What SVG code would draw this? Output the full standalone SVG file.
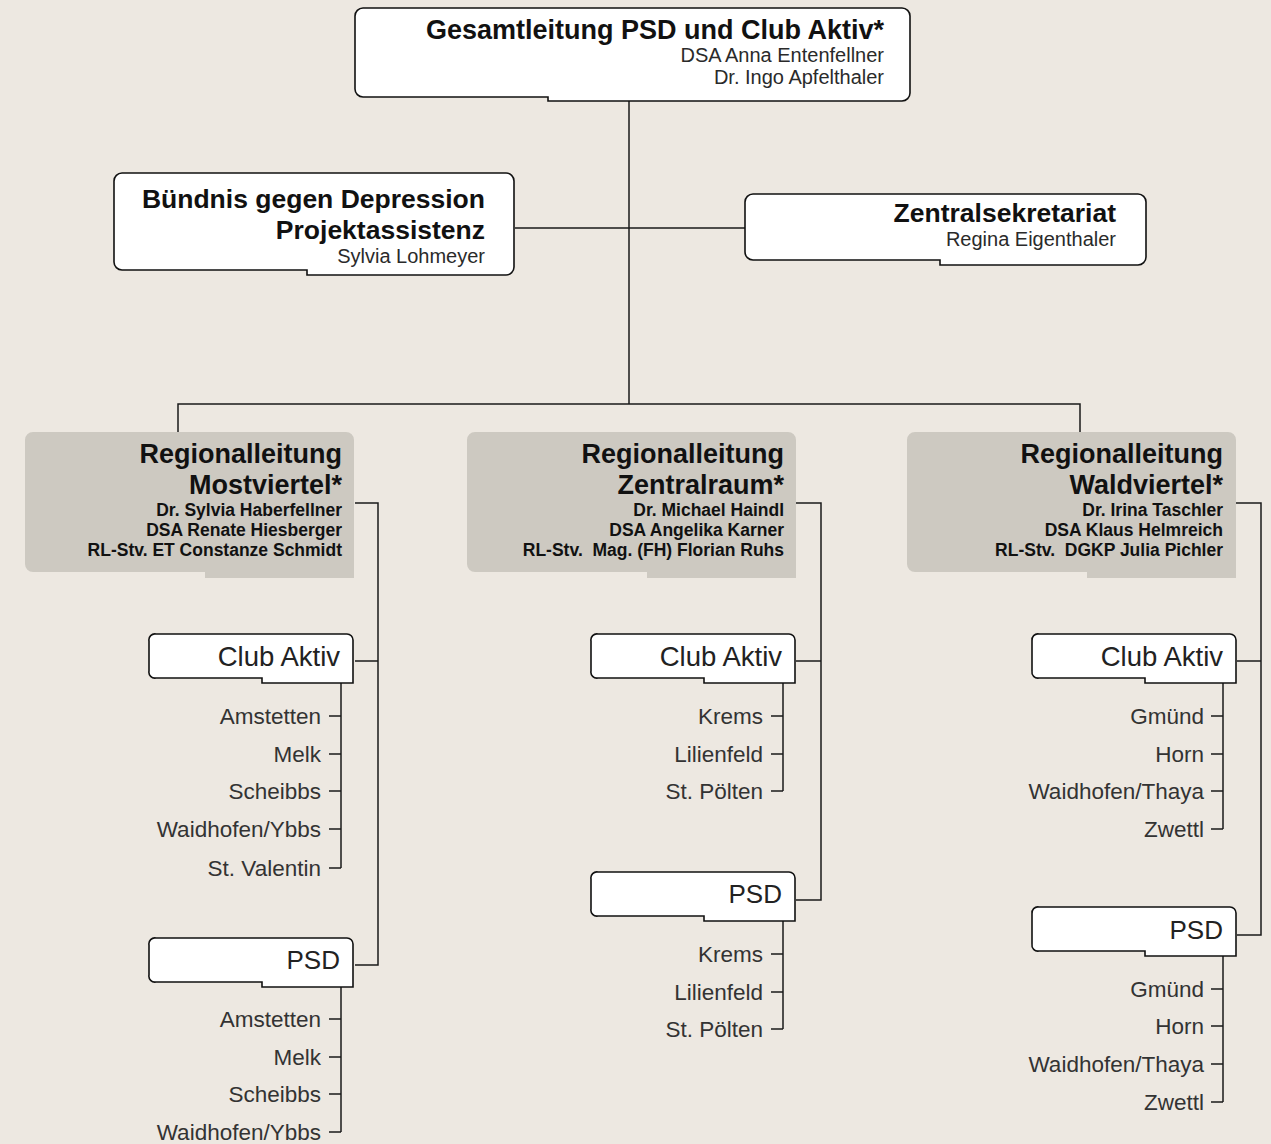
<svg xmlns="http://www.w3.org/2000/svg" width="1271" height="1144" viewBox="0 0 1271 1144">
<style>
.bg{fill:#ede8e1}
.box{fill:#fff;stroke:#111;stroke-width:1.6}
.gray{fill:#cdc9c1}
.ln{fill:none;stroke:#1a1a1a;stroke-width:1.5}
text{font-family:"Liberation Sans",Arial,sans-serif;text-anchor:end}
.t{font-size:26.5px;font-weight:bold;fill:#111}
.g{font-size:27px}
.n{font-size:20px;fill:#2a2a2a}
.s{font-size:17.5px;font-weight:bold;fill:#111}
.c{font-size:26px;fill:#222}
.ca{font-size:27.5px}
.i{font-size:22.5px;fill:#333}
</style>
<rect class="bg" x="0" y="0" width="1271" height="1144"/>
<g id="connectors">
<path class="ln" d="M629 101 V404 M178 432 V404 H1080 V432 M515 228 H745"/>
<path class="ln" d="M355 503 H378 V965 H355 M355 661 H378"/>
<path class="ln" d="M341 683 V868 M329 716 H341 M329 754 H341 M329 791 H341 M329 829 H341 M329 868 H341"/>
<path class="ln" d="M341 987 V1132 M329 1019 H341 M329 1057 H341 M329 1094 H341 M329 1132 H341"/>
<path class="ln" d="M796 503 H821 V900 H796 M796 661 H821"/>
<path class="ln" d="M783 683 V791 M771 716 H783 M771 754 H783 M771 791 H783"/>
<path class="ln" d="M783 921 V1029 M771 954 H783 M771 992 H783 M771 1029 H783"/>
<path class="ln" d="M1236 503 H1261 V935 H1237 M1237 661 H1261"/>
<path class="ln" d="M1223 683 V829 M1211 716 H1223 M1211 754 H1223 M1211 791 H1223 M1211 829 H1223"/>
<path class="ln" d="M1223 956 V1102 M1211 989 H1223 M1211 1026 H1223 M1211 1064 H1223 M1211 1102 H1223"/>
</g>
<g id="gesamtleitung">
<path class="box" d="M363 8 H902 A8 8 0 0 1 910 16 V93 A8 8 0 0 1 902 101 H548 V97 H363 A8 8 0 0 1 355 89 V16 A8 8 0 0 1 363 8 Z"/>
<text class="t g" x="884" y="39">Gesamtleitung PSD und Club Aktiv*</text>
<text class="n" x="884" y="62">DSA Anna Entenfellner</text>
<text class="n" x="884" y="84">Dr. Ingo Apfelthaler</text>
</g>
<g id="buendnis">
<path class="box" d="M122 173 H506 A8 8 0 0 1 514 181 V267 A8 8 0 0 1 506 275 H307 V270 H122 A8 8 0 0 1 114 262 V181 A8 8 0 0 1 122 173 Z"/>
<text class="t" x="485" y="208">Bündnis gegen Depression</text>
<text class="t" x="485" y="239">Projektassistenz</text>
<text class="n" x="485" y="263">Sylvia Lohmeyer</text>
</g>
<g id="zentralsekretariat">
<path class="box" d="M753 194 H1138 A8 8 0 0 1 1146 202 V257 A8 8 0 0 1 1138 265 H940 V260 H753 A8 8 0 0 1 745 252 V202 A8 8 0 0 1 753 194 Z"/>
<text class="t" x="1116" y="222">Zentralsekretariat</text>
<text class="n" x="1116" y="246">Regina Eigenthaler</text>
</g>
<g id="rl-mostviertel">
<path class="gray" d="M33 432 H346 A8 8 0 0 1 354 440 V578 H205 V572 H33 A8 8 0 0 1 25 564 V440 A8 8 0 0 1 33 432 Z"/>
<text class="t g" x="342" y="463">Regionalleitung</text>
<text class="t g" x="342" y="494">Mostviertel*</text>
<text class="s" x="342" y="516">Dr. Sylvia Haberfellner</text>
<text class="s" x="342" y="536">DSA Renate Hiesberger</text>
<text class="s" x="342" y="556">RL-Stv. ET Constanze Schmidt</text>
</g>
<g id="rl-zentralraum">
<path class="gray" d="M475 432 H788 A8 8 0 0 1 796 440 V578 H647 V572 H475 A8 8 0 0 1 467 564 V440 A8 8 0 0 1 475 432 Z"/>
<text class="t g" x="784" y="463">Regionalleitung</text>
<text class="t g" x="784" y="494">Zentralraum*</text>
<text class="s" x="784" y="516">Dr. Michael Haindl</text>
<text class="s" x="784" y="536">DSA Angelika Karner</text>
<text class="s" x="784" y="556" xml:space="preserve">RL-Stv.  Mag. (FH) Florian Ruhs</text>
</g>
<g id="rl-waldviertel">
<path class="gray" d="M915 432 H1228 A8 8 0 0 1 1236 440 V578 H1087 V572 H915 A8 8 0 0 1 907 564 V440 A8 8 0 0 1 915 432 Z"/>
<text class="t g" x="1223" y="463">Regionalleitung</text>
<text class="t g" x="1223" y="494">Waldviertel*</text>
<text class="s" x="1223" y="516">Dr. Irina Taschler</text>
<text class="s" x="1223" y="536">DSA Klaus Helmreich</text>
<text class="s" x="1223" y="556" xml:space="preserve">RL-Stv.  DGKP Julia Pichler</text>
</g>
<g id="club-aktiv-mostviertel">
<path class="box" d="M156 634 H347 A6 6 0 0 1 353 640 V683 H262 V678 H156 A6 6 0 0 1 149 671 V641 A6 6 0 0 1 156 634 Z"/>
<text class="c ca" x="340" y="666">Club Aktiv</text>
<text class="i" x="321" y="724">Amstetten</text>
<text class="i" x="321" y="762">Melk</text>
<text class="i" x="321" y="799">Scheibbs</text>
<text class="i" x="321" y="837">Waidhofen/Ybbs</text>
<text class="i" x="321" y="876">St. Valentin</text>
</g>
<g id="psd-mostviertel">
<path class="box" d="M156 938 H347 A6 6 0 0 1 353 944 V987 H262 V982 H156 A6 6 0 0 1 149 975 V945 A6 6 0 0 1 156 938 Z"/>
<text class="c" x="340" y="969">PSD</text>
<text class="i" x="321" y="1027">Amstetten</text>
<text class="i" x="321" y="1065">Melk</text>
<text class="i" x="321" y="1102">Scheibbs</text>
<text class="i" x="321" y="1140">Waidhofen/Ybbs</text>
</g>
<g id="club-aktiv-zentralraum">
<path class="box" d="M598 634 H789 A6 6 0 0 1 795 640 V683 H704 V678 H598 A6 6 0 0 1 591 671 V641 A6 6 0 0 1 598 634 Z"/>
<text class="c ca" x="782" y="666">Club Aktiv</text>
<text class="i" x="763" y="724">Krems</text>
<text class="i" x="763" y="762">Lilienfeld</text>
<text class="i" x="763" y="799">St. Pölten</text>
</g>
<g id="psd-zentralraum">
<path class="box" d="M598 872 H789 A6 6 0 0 1 795 878 V921 H704 V916 H598 A6 6 0 0 1 591 909 V879 A6 6 0 0 1 598 872 Z"/>
<text class="c" x="782" y="903">PSD</text>
<text class="i" x="763" y="962">Krems</text>
<text class="i" x="763" y="1000">Lilienfeld</text>
<text class="i" x="763" y="1037">St. Pölten</text>
</g>
<g id="club-aktiv-waldviertel">
<path class="box" d="M1039 634 H1230 A6 6 0 0 1 1236 640 V683 H1145 V678 H1039 A6 6 0 0 1 1032 671 V641 A6 6 0 0 1 1039 634 Z"/>
<text class="c ca" x="1223" y="666">Club Aktiv</text>
<text class="i" x="1204" y="724">Gmünd</text>
<text class="i" x="1204" y="762">Horn</text>
<text class="i" x="1204" y="799">Waidhofen/Thaya</text>
<text class="i" x="1204" y="837">Zwettl</text>
</g>
<g id="psd-waldviertel">
<path class="box" d="M1039 907 H1230 A6 6 0 0 1 1236 913 V956 H1145 V951 H1039 A6 6 0 0 1 1032 944 V914 A6 6 0 0 1 1039 907 Z"/>
<text class="c" x="1223" y="939">PSD</text>
<text class="i" x="1204" y="997">Gmünd</text>
<text class="i" x="1204" y="1034">Horn</text>
<text class="i" x="1204" y="1072">Waidhofen/Thaya</text>
<text class="i" x="1204" y="1110">Zwettl</text>
</g>
</svg>
